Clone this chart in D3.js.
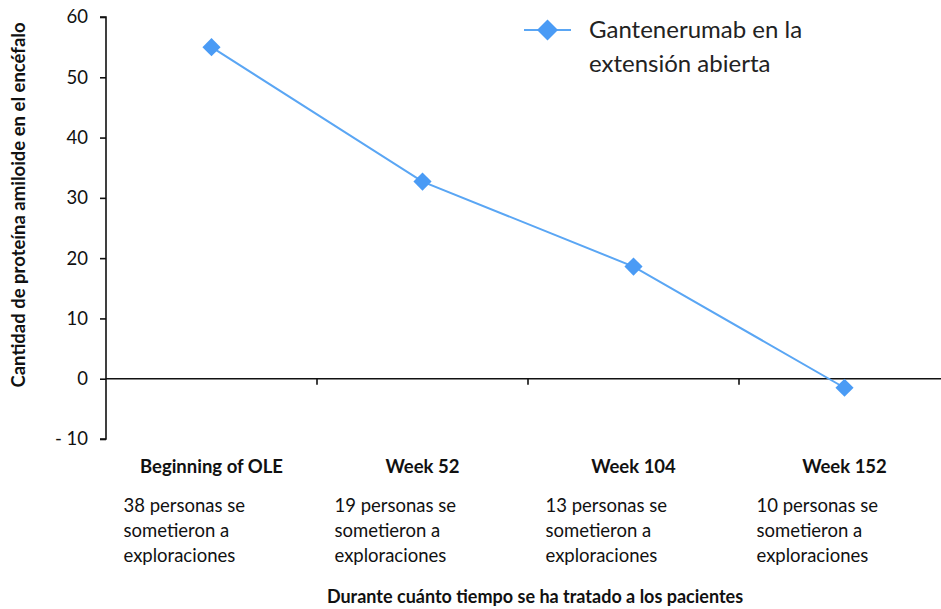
<!DOCTYPE html>
<html><head><meta charset="utf-8">
<script src="https://cdn.jsdelivr.net/npm/d3@7"></script>
<style>
html,body{margin:0;padding:0;background:#fff;}
svg{display:block;}
text{font-family:Lato,"Open Sans",sans-serif;}
</style></head>
<body>
<svg id="c" width="941" height="609"></svg>
<script>
const categories = ["Beginning of OLE", "Week 52", "Week 104", "Week 152"];
const subLabels = [
  ["38 personas se", "sometieron a", "exploraciones"],
  ["19 personas se", "sometieron a", "exploraciones"],
  ["13 personas se", "sometieron a", "exploraciones"],
  ["10 personas se", "sometieron a", "exploraciones"]
];
const values = [55, 32.7, 18.6, -1.5];
const yTicks = [60, 50, 40, 30, 20, 10, 0, -10];
const seriesName = ["Gantenerumab en la", "extensión abierta"];
const yTitle = "Cantidad de proteína amiloide en el encéfalo";
const xTitle = "Durante cuánto tiempo se ha tratado a los pacientes";

const svg = d3.select("#c");
const x = d3.scaleBand().domain(categories).range([106, 950]);
const y = d3.scaleLinear().domain([-10, 60]).range([439, 17]);
const lineColor = "#5aa6f4", markColor = "#4a9bf5";

// y axis
const yAxis = d3.axisLeft(y).tickValues(yTicks).tickSize(6)
  .tickFormat(d => d < 0 ? "- " + Math.abs(d) : String(d));
const gy = svg.append("g").attr("transform", "translate(106,0)").call(yAxis);
gy.select(".domain").attr("stroke", "#111").attr("stroke-width", 1.6).attr("d", `M-6,${y(60)}H0V${y(-10)}H-6`);
gy.selectAll(".tick line").attr("stroke", "#111").attr("stroke-width", 1.6);
gy.selectAll(".tick text").attr("font-size", 18.5).attr("fill", "#111").attr("x", -18);

// x axis at zero
const xAxis = d3.axisBottom(x).tickSize(6).tickFormat("");
const gx = svg.append("g").attr("transform", `translate(0,${y(0)})`).call(xAxis);
gx.select(".domain").attr("stroke", "#111").attr("stroke-width", 1.6).attr("d", `M${x.range()[0]},0H${x.range()[1]}`);
gx.selectAll(".tick").remove();
const bounds = categories.slice(1).map(c => x(c));
gx.selectAll("line.tk").data(bounds).enter().append("line")
  .attr("x1", d => d).attr("x2", d => d).attr("y1", 0).attr("y2", 6)
  .attr("stroke", "#111").attr("stroke-width", 1.6);

// category labels
const cx = c => x(c) + x.bandwidth() / 2;
svg.append("g").selectAll("text").data(categories).enter().append("text")
  .attr("x", d => cx(d)).attr("y", 473).attr("text-anchor", "middle")
  .attr("font-size", 18.5).attr("font-weight", "bold").attr("fill", "#111").text(d => d);
categories.forEach((c, i) => {
  svg.append("g").selectAll("text").data(subLabels[i]).enter().append("text")
    .attr("x", cx(c) - 88).attr("y", (d, j) => 512 + j * 25)
    .attr("font-size", 18.5).attr("fill", "#111").text(d => d);
});

// titles
svg.append("text").attr("transform", `translate(25,${(y(60) + y(-10)) / 2 - 23}) rotate(-90)`)
  .attr("text-anchor", "middle").attr("font-size", 18.5).attr("font-weight", "bold").attr("fill", "#111").text(yTitle);
svg.append("text").attr("x", 535).attr("y", 603).attr("text-anchor", "middle")
  .attr("font-size", 18).attr("font-weight", "bold").attr("fill", "#111").text(xTitle);

// line + markers
const line = d3.line().x((d, i) => cx(categories[i])).y(d => y(d));
svg.append("path").datum(values).attr("d", line).attr("fill", "none")
  .attr("stroke", lineColor).attr("stroke-width", 2);
const diamond = d3.symbol().type(d3.symbolSquare).size(165);
svg.append("g").selectAll("path").data(values).enter().append("path")
  .attr("d", diamond).attr("transform", (d, i) => `translate(${cx(categories[i])},${y(d)}) rotate(45)`)
  .attr("fill", markColor);

// legend
const lg = svg.append("g").attr("transform", "translate(524,30)");
lg.append("line").attr("x1", 0).attr("x2", 47).attr("y1", 0).attr("y2", 0).attr("stroke", lineColor).attr("stroke-width", 2);
lg.append("path").attr("d", d3.symbol().type(d3.symbolSquare).size(220)).attr("transform", "translate(23.5,0) rotate(45)").attr("fill", markColor);
lg.selectAll("text").data(seriesName).enter().append("text")
  .attr("x", 65).attr("y", (d, i) => 8 + i * 34).attr("font-size", 24).attr("fill", "#222").text(d => d);
</script>
</body></html>
